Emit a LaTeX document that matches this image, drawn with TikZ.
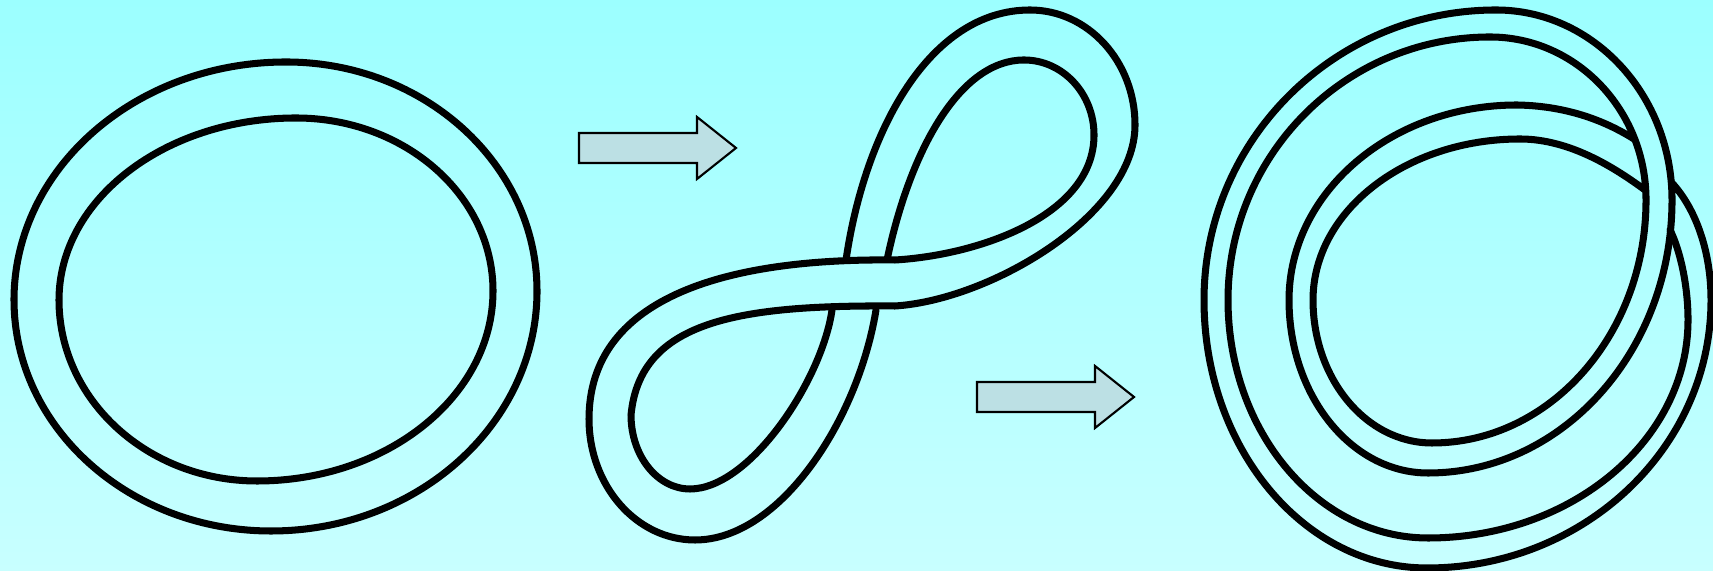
\documentclass[tikz,border=0pt]{standalone}
\usepackage[dvipsnames]{xcolor}
\usetikzlibrary{calc}
\definecolor{SkyTop}{RGB}{156,255,255}
\definecolor{SkyBottom}{RGB}{200,255,255}
\definecolor{ArrowFill}{RGB}{188,224,228}
\tikzset{
    band/.style={line width=2pt, line join=round, line cap=round},
}
\newcommand{\BlockArrow}[2]{%
    % #1 : x of the tail
    % #2 : y of the axis
    \filldraw[fill=ArrowFill, draw=black, line width=0.6pt]
    (#1,#2-15) -- (#1+118,#2-15) -- (#1+118,#2-31)
    -- (#1+157,#2)
    -- (#1+118,#2+31) -- (#1+118,#2+15) -- (#1,#2+15) -- cycle;
}

\begin{document}
\begin{tikzpicture}[x=0.01cm, y=-0.01cm]

    % background
    \useasboundingbox (0,0) rectangle (1713,571);
    \shade[top color=SkyTop, bottom color=SkyBottom] (0,0) rectangle (1713,571);

    % plain ring
    \draw[band] (14,300)
        arc[start angle=180, end angle=270, x radius=272, y radius=238]
        arc[start angle=270, end angle=360, x radius=251, y radius=229]
        arc[start angle=0, end angle=90, x radius=266, y radius=240]
        arc[start angle=90, end angle=180, x radius=257, y radius=231] -- cycle;
    \draw[band] (59,300)
        arc[start angle=180, end angle=270, x radius=237, y radius=182]
        arc[start angle=270, end angle=360, x radius=197, y radius=173]
        arc[start angle=0, end angle=90, x radius=236, y radius=190]
        arc[start angle=90, end angle=180, x radius=198, y radius=181] -- cycle;

    \BlockArrow{579}{148};
    \BlockArrow{977}{397};

    % figure eight
    \draw[band] (887,260) .. controls (910,150) and (960,60) .. (1024,60)
        arc[start angle=270, end angle=360, x radius=70, y radius=75]
        .. controls (1094,215) and (980,255) .. (895,260)
        .. controls (720,258) and (589,300) .. (589,419)
        arc[start angle=180, end angle=90, x radius=106, y radius=121]
        .. controls (780,540) and (858,420) .. (876,310);
    \draw[band] (846,260) .. controls (865,130) and (930,10) .. (1030,10)
        arc[start angle=270, end angle=360, x radius=105, y radius=115]
        .. controls (1135,215) and (990,300) .. (895,306)
        .. controls (740,305) and (640,320) .. (631,415)
        arc[start angle=180, end angle=90, x radius=59, y radius=74]
        .. controls (750,489) and (822,380) .. (832,310);

    % twisted double band
    \draw[band] (1672,183) .. controls (1695,208) and (1711,250) .. (1711,300)
        arc[start angle=0, end angle=90, x radius=284, y radius=268]
        arc[start angle=90, end angle=180, x radius=223, y radius=268]
        arc[start angle=180, end angle=270, x radius=292, y radius=290]
        arc[start angle=270, end angle=360, x radius=176, y radius=190]
        arc[start angle=0, end angle=90, x radius=244, y radius=273]
        arc[start angle=90, end angle=180, x radius=139, y radius=173]
        arc[start angle=180, end angle=270, x radius=228, y radius=195]
        .. controls (1572,106) and (1610,124) .. (1634,139);
    \draw[band] (1670,230) .. controls (1680,250) and (1688,285) .. (1688,320)
        arc[start angle=0, end angle=90, x radius=260, y radius=218]
        arc[start angle=90, end angle=180, x radius=200, y radius=238]
        arc[start angle=180, end angle=270, x radius=262, y radius=263]
        arc[start angle=270, end angle=360, x radius=156, y radius=163]
        arc[start angle=0, end angle=90, x radius=214, y radius=243]
        arc[start angle=90, end angle=180, x radius=119, y radius=143]
        arc[start angle=180, end angle=270, x radius=207, y radius=161]
        .. controls (1570,139) and (1615,168) .. (1645,190);

\end{tikzpicture}
\end{document}
